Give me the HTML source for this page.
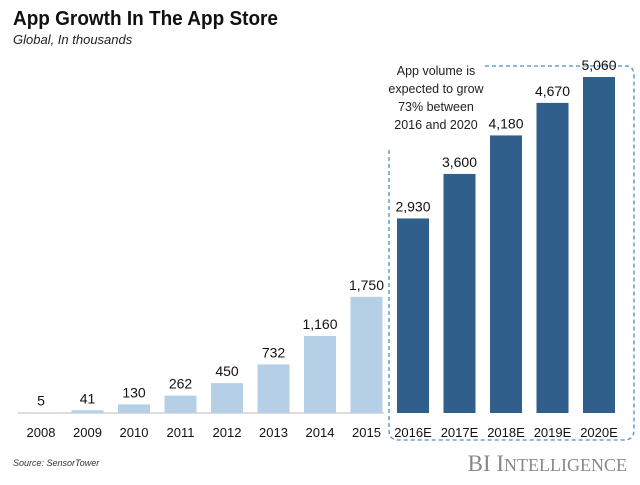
<!DOCTYPE html>
<html><head><style>
body{margin:0;width:640px;height:480px;background:#fff;overflow:hidden;font-family:"Liberation Sans",sans-serif}
</style></head><body>
<svg width="640" height="480" xmlns="http://www.w3.org/2000/svg">
<text x="13" y="25" font-size="20" font-weight="bold" fill="#111" textLength="265" lengthAdjust="spacingAndGlyphs">App Growth In The App Store</text>
<text x="13" y="44" font-size="13" font-style="italic" fill="#222">Global, In thousands</text>
<g font-size="12.5" fill="#222" text-anchor="middle">
<text x="436" y="75">App volume is</text>
<text x="436" y="93">expected to grow</text>
<text x="436" y="111">73% between</text>
<text x="436" y="129">2016 and 2020</text>
</g>
<path d="M485 66 H626 Q634 66 634 76 V430 Q634 440 624 440 H398 Q389 440 389 430 V150" fill="none" stroke="#4a8fc4" stroke-width="1.3" stroke-dasharray="4,3"/>
<line x1="18" y1="413" x2="384" y2="413" stroke="#bbb" stroke-width="1"/>
<g id="bars"></g>
<text x="13" y="466" font-size="9" font-style="italic" fill="#333">Source: SensorTower</text>
<text x="627" y="471" font-size="23" fill="#888" text-anchor="end" font-family="Liberation Serif">BI I<tspan font-size="18">NTELLIGENCE</tspan></text>
</svg>
<script>
var d=[["2008",5],["2009",41],["2010",130],["2011",262],["2012",450],["2013",732],["2014",1160],["2015",1750],["2016E",2930],["2017E",3600],["2018E",4180],["2019E",4670],["2020E",5060]];
var g=document.getElementById('bars'),s="";
d.forEach(function(e,i){var cx=41+i*46.5,h=e[1]*336/5060,c=i<8?"#b4cfe6":"#2f5f8a";
s+='<rect x="'+(cx-16)+'" y="'+(413-h)+'" width="32" height="'+h+'" fill="'+c+'"/>';
s+='<text x="'+cx+'" y="'+(413-h-7)+'" font-size="14" text-anchor="middle" fill="#111">'+e[1].toLocaleString('en-US')+'</text>';
s+='<text x="'+cx+'" y="437" font-size="13" text-anchor="middle" fill="#111">'+e[0]+'</text>';});
g.innerHTML=s;
</script>
</body></html>
